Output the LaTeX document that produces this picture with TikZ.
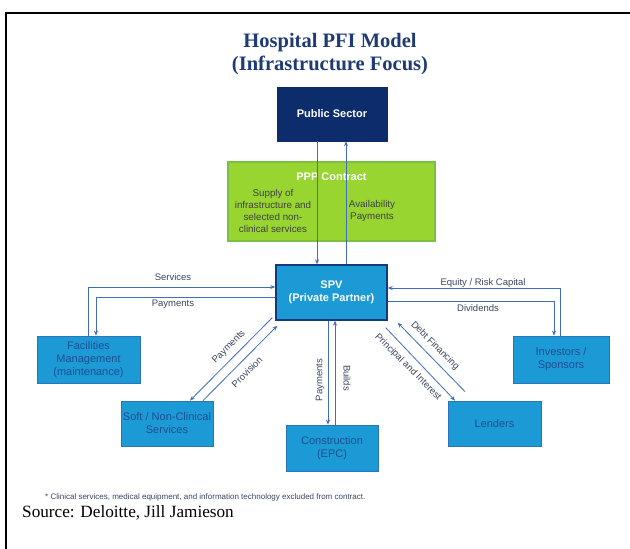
\documentclass[tikz,border=0pt]{standalone}
\usepackage{fontspec}
\setmainfont{Liberation Serif}
\setsansfont{Liberation Sans}
\usetikzlibrary{arrows.meta}
\definecolor{titleblue}{HTML}{1F3B73}
\definecolor{navy}{HTML}{0D2C6C}
\definecolor{boxblue}{HTML}{1C9AD6}
\definecolor{boxedge}{HTML}{2A74B8}
\definecolor{lime}{HTML}{98D531}
\definecolor{limeedge}{HTML}{7CC043}
\definecolor{arrowblue}{HTML}{3F6DBA}
\definecolor{boxtext}{HTML}{1E4F8F}
\definecolor{labeltext}{HTML}{3A4660}
\tikzset{
  arr/.style={draw=arrowblue, line width=0.8pt, -{Stealth[length=5pt,width=4pt]}},
  bluebox/.style={draw=boxedge, line width=0.8pt, fill=boxblue, text=boxtext,
    font=\sffamily\fontsize{11}{13}\selectfont, align=center, inner sep=0pt},
  lbl/.style={text=labeltext, font=\sffamily\fontsize{9.5}{11}\selectfont, inner sep=0.5pt},
}
\begin{document}
\begin{tikzpicture}[x=1pt,y=-1pt]
\useasboundingbox (0,0) rectangle (630,549);
\fill[white] (0,0) rectangle (630,549);
% frame
\draw[line width=2pt] (6,549) -- (6,13) -- (630,13);
% title
\node[text=titleblue, font=\bfseries\fontsize{20.5}{23.5}\selectfont, align=center] (title) at (330,54)
  {Hospital PFI Model\\(Infrastructure Focus)};
% boxes
\node[draw=navy, fill=navy, minimum width=110pt, minimum height=54pt, text=white,
  font=\sffamily\bfseries\fontsize{11}{13}\selectfont] (pub) at (332,114) {Public Sector};
\node[draw=limeedge, line width=1.2pt, fill=lime, minimum width=207pt, minimum height=79pt] (ppp) at (331.5,201.5) {};
\node[text=white, font=\sffamily\bfseries\fontsize{11}{13}\selectfont] (ppptitle) at (331.5,177) {PPP Contract};
\node[text=black!75, font=\sffamily\fontsize{9.8}{11.8}\selectfont, align=center] (supply) at (273,211)
  {Supply of\\infrastructure and\\selected non-\\clinical services};
\node[text=black!75, font=\sffamily\fontsize{9.8}{11.8}\selectfont, align=center] (avail) at (372,211)
  {Availability\\Payments};
\node[bluebox, draw=navy!80!boxedge, line width=1.4pt, text=white, font=\sffamily\bfseries\fontsize{11}{13.5}\selectfont,
  minimum width=111pt, minimum height=55pt] (spv) at (331.5,292.5) {SPV\\(Private Partner)};
\node[bluebox, minimum width=103pt, minimum height=47pt] (fm) at (88.5,359.5) {Facilities\\Management\\(maintenance)};
\node[bluebox, minimum width=96pt, minimum height=47pt] (inv) at (561,359.5) {Investors /\\Sponsors};
\node[bluebox, minimum width=92pt, minimum height=45pt] (soft) at (167,423.5) {Soft / Non-Clinical\\Services};
\node[bluebox, minimum width=92pt, minimum height=46pt] (epc) at (332,448) {Construction\\(EPC)};
\node[bluebox, minimum width=93pt, minimum height=45pt] (lend) at (494.5,423.5) {Lenders};
% public <-> spv
\draw[arr] ([xshift=-15pt]pub.south) -- ([xshift=-14.5pt]spv.north);
\draw[arr] ([xshift=14.5pt]spv.north) -- ([xshift=14pt]pub.south);
% facilities
\draw[arr] (fm.north) |- ([yshift=5.5pt]spv.west);
\draw[arr] ([yshift=-4.5pt]spv.west) -| ([xshift=7.5pt]fm.north);
\node[lbl] (lserv) at (173,277) {Services};
\node[lbl] (lpay1) at (173,304) {Payments};
% investors
\draw[arr] ([xshift=-1pt]inv.north) |- ([yshift=4.5pt]spv.east);
\draw[arr] ([yshift=-8.5pt]spv.east) -| ([xshift=-7pt]inv.north);
\node[lbl] (leq) at (483,283) {Equity / Risk Capital};
\node[lbl] (ldiv) at (478,308) {Dividends};
% construction
\draw[arr] ([xshift=-3.5pt]spv.south) -- ([xshift=-4pt]epc.north);
\draw[arr] ([xshift=3pt]epc.north) -- ([xshift=3.5pt]spv.south);
\node[lbl, rotate=90] (lpay3) at (320,380) {Payments};
\node[lbl, rotate=-90] (lbuild) at (347,378) {Builds};
% soft services
\draw[arr] ([shift={(-3pt,3pt)}]spv.south west) -- ([xshift=23pt]soft.north);
\draw[arr] ([xshift=36pt]soft.north) -- ([shift={(2pt,-5pt)}]spv.south west);
\node[lbl, rotate=45] (lpay2) at (229,347) {Payments};
\node[lbl, rotate=45] (lprov) at (247,372) {Provision};
% lenders
\draw[arr] ([shift={(-29.5pt,9pt)}]lend.north) -- ([shift={(10pt,-2pt)}]spv.south east);
\draw[arr] ([shift={(-2pt,-7pt)}]spv.south east) -- ([xshift=-39.5pt]lend.north);
\node[lbl, rotate=-45] (ldebt) at (435,346) {Debt Financing};
\node[lbl, rotate=-45] (lprin) at (408,367) {Principal and Interest};
% footnote and source
\node[anchor=west, text=labeltext, font=\sffamily\fontsize{8}{9.5}\selectfont, inner sep=0pt] (foot) at (45,497)
  {* Clinical services, medical equipment, and information technology excluded from contract.};
\node[anchor=west, font=\fontsize{17.2}{20}\selectfont, inner sep=0pt] (src) at (22,513)
  {Source: Deloitte, Jill Jamieson};
\end{tikzpicture}
\end{document}
